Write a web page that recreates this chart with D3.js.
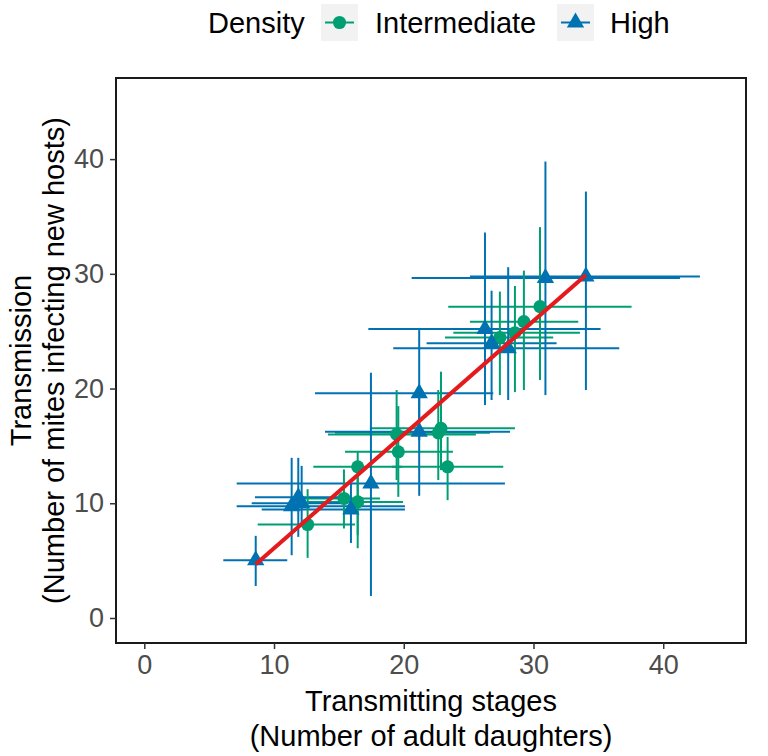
<!DOCTYPE html>
<html><head><meta charset="utf-8">
<script src="https://cdn.jsdelivr.net/npm/d3@7"></script>
<style>body{margin:0;background:#fff}svg{display:block;font-family:"Liberation Sans",Arial,sans-serif}</style>
</head><body><svg id="c" width="768" height="756"></svg>
<script>
// Intermediate density (green circles)
const interX   = [12.59, 15.39, 16.45, 16.45, 19.58, 19.45, 22.87, 22.66, 23.38, 27.41, 28.57, 29.26, 30.50];
const interY   = [8.15, 10.42, 10.12, 13.18, 14.49, 16.00, 16.53, 16.14, 13.18, 24.45, 24.87, 25.83, 27.14];
const interXLo = [8.74, 12.00, 12.62, 13.03, 15.47, 14.16, 17.39, 14.70, 19.09, 23.18, 23.82, 25.10, 23.43];
const interXHi = [16.24, 18.17, 19.94, 19.86, 23.79, 25.56, 28.57, 26.64, 27.67, 31.52, 33.58, 33.45, 37.56];
const interYLo = [5.24, 7.80, 7.22, 6.08, 10.56, 12.02, 12.89, 12.02, 10.27, 19.43, 19.69, 19.87, 20.74];
const interYHi = [11.23, 12.95, 12.98, 14.46, 18.47, 19.87, 21.47, 19.87, 15.79, 28.45, 28.94, 30.28, 34.07];
// High density (blue triangles)
const highX   = [8.59, 11.87, 11.36, 12.13, 15.93, 17.47, 21.19, 21.19, 26.26, 26.77, 28.05, 30.92, 34.04];
const highY   = [5.03, 10.53, 9.75, 10.01, 9.46, 11.73, 16.23, 19.58, 25.19, 23.94, 23.51, 29.64, 29.76];
const highXLo = [6.09, 8.53, 7.12, 8.28, 9.05, 7.12, 13.93, 13.16, 17.27, 21.76, 19.19, 20.61, 25.10];
const highXHi = [11.02, 15.47, 20.09, 15.72, 20.09, 27.80, 28.19, 26.90, 35.17, 31.78, 36.61, 41.29, 42.83];
const highYLo = [2.79, 7.07, 5.47, 8.09, 6.54, 1.92, 10.65, 15.51, 18.56, 19.00, 19.00, 19.43, 19.87];
const highYHi = [7.16, 13.96, 13.96, 13.26, 11.75, 21.38, 19.87, 25.10, 33.60, 28.53, 30.58, 39.79, 37.17];
// fitted line
const fitX = [8.59, 34.04];
const fitY = [4.68, 29.90];
const xTicks = [0, 10, 20, 30, 40];
const yTicks = [0, 10, 20, 30, 40];
const legendLabels = ["Intermediate", "High"];

const colors = {Intermediate: "#009E73", High: "#0072B2"};
const svg = d3.select("#c");
const L = 116, R = 746, T = 78, B = 643;
const x = d3.scaleLinear().domain([-2.18, 46.38]).range([L, R]);
const y = d3.scaleLinear().domain([-2.18, 47.07]).range([B, T]);

function build(xs, ys, xl, xh, yl, yh, grp) {
  return xs.map((v, i) => ({x: v, y: ys[i], xl: xl[i], xh: xh[i], yl: yl[i], yh: yh[i], g: grp}));
}
const inter = build(interX, interY, interXLo, interXHi, interYLo, interYHi, "Intermediate");
const high = build(highX, highY, highXLo, highXHi, highYLo, highYHi, "High");
const all = inter.concat(high);

const plot = svg.append("g");
plot.selectAll("line.h").data(all).join("line")
  .attr("x1", d => x(d.xl)).attr("x2", d => x(d.xh))
  .attr("y1", d => y(d.y)).attr("y2", d => y(d.y))
  .attr("stroke", d => colors[d.g]).attr("stroke-width", 2);
plot.selectAll("line.v").data(all).join("line")
  .attr("x1", d => x(d.x)).attr("x2", d => x(d.x))
  .attr("y1", d => y(d.yl)).attr("y2", d => y(d.yh))
  .attr("stroke", d => colors[d.g]).attr("stroke-width", 2);
const circ = d3.symbol().type(d3.symbolCircle).size(135);
const tri = d3.symbol().type(d3.symbolTriangle).size(130);
plot.selectAll("path.p").data(all).join("path")
  .attr("transform", d => `translate(${x(d.x)},${y(d.y)})`)
  .attr("d", d => d.g === "High" ? tri() : circ())
  .attr("fill", d => colors[d.g]);
plot.append("path")
  .datum(fitX.map((v, i) => [v, fitY[i]]))
  .attr("d", d3.line().x(d => x(d[0])).y(d => y(d[1])))
  .attr("stroke", "#E41A1C").attr("stroke-width", 4).attr("fill", "none");

svg.append("rect").attr("x", L).attr("y", T).attr("width", R - L).attr("height", B - T)
  .attr("fill", "none").attr("stroke", "#1a1a1a").attr("stroke-width", 2);

const xa = svg.append("g").attr("transform", `translate(0,${B})`)
  .call(d3.axisBottom(x).tickValues(xTicks).tickSize(6).tickPadding(6));
const ya = svg.append("g").attr("transform", `translate(${L},0)`)
  .call(d3.axisLeft(y).tickValues(yTicks).tickSize(6).tickPadding(6));
[xa, ya].forEach(a => {
  a.select(".domain").remove();
  a.selectAll(".tick line").attr("stroke", "#333").attr("stroke-width", 1.5);
  a.selectAll(".tick text").attr("fill", "#4D4D4D").style("font-size", "27px")
    .style("font-family", "Liberation Sans, Arial, sans-serif");
});

const tf = "Liberation Sans, Arial, sans-serif";
svg.append("text").attr("x", (L + R) / 2).attr("y", 711).attr("text-anchor", "middle")
  .style("font-size", "29px").style("font-family", tf).attr("fill", "#000").text("Transmitting stages");
svg.append("text").attr("x", (L + R) / 2).attr("y", 746).attr("text-anchor", "middle")
  .style("font-size", "29px").style("font-family", tf).attr("fill", "#000").text("(Number of adult daughters)");
const cy = (T + B) / 2;
svg.append("text").attr("transform", `translate(31,${cy}) rotate(-90)`).attr("text-anchor", "middle")
  .style("font-size", "29px").style("font-family", tf).attr("fill", "#000").text("Transmission");
svg.append("text").attr("transform", `translate(64,${cy}) rotate(-90)`).attr("text-anchor", "middle")
  .style("font-size", "29px").style("font-family", tf).attr("fill", "#000").text("(Number of mites infecting new hosts)");

const lg = svg.append("g");
lg.append("text").attr("x", 208).attr("y", 33).style("font-size", "29px").style("font-family", tf).text("Density");
const keyX = [321, 557], labX = [375, 610];
legendLabels.forEach((lab, i) => {
  const kx = keyX[i];
  lg.append("rect").attr("x", kx).attr("y", 4).attr("width", 37).attr("height", 37).attr("fill", "#F2F2F2");
  lg.append("line").attr("x1", kx + 4).attr("x2", kx + 33).attr("y1", 22.5).attr("y2", 22.5)
    .attr("stroke", colors[lab]).attr("stroke-width", 2);
  lg.append("path").attr("transform", `translate(${kx + 18.5},22.5)`)
    .attr("d", lab === "High" ? tri() : circ()).attr("fill", colors[lab]);
  lg.append("text").attr("x", labX[i]).attr("y", 33).style("font-size", "29px").style("font-family", tf).text(lab);
});
</script></body></html>
